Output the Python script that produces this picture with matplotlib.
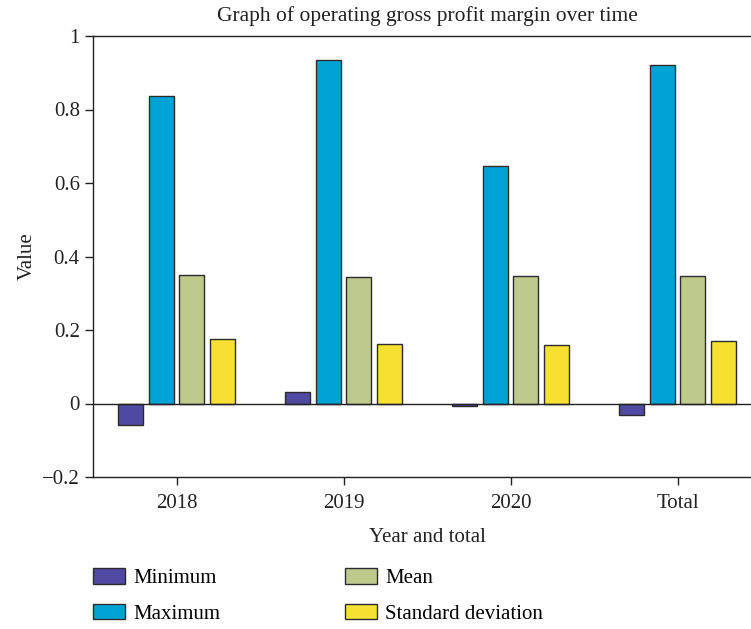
import numpy as np
import matplotlib
matplotlib.use('Agg')
import matplotlib.pyplot as plt

# Data
categories = ['2018', '2019', '2020', 'Total']
minimum = [-0.058, 0.030, -0.006, -0.030]
maximum = [0.837, 0.935, 0.647, 0.921]
mean = [0.349, 0.345, 0.347, 0.348]
std_dev = [0.175, 0.162, 0.160, 0.169]
series_names = ['Minimum', 'Maximum', 'Mean', 'Standard deviation']
series_colors = ['#5049A1', '#00A3D3', '#BEC98C', '#F6E031']
yticks = [-0.2, 0, 0.2, 0.4, 0.6, 0.8, 1]
ytick_labels = ['\u22120.2', '0', '0.2', '0.4', '0.6', '0.8', '1']

plt.rcParams['font.family'] = ['Liberation Serif', 'DejaVu Serif']
plt.rcParams['font.size'] = 15

fig = plt.figure(figsize=(7.51, 6.29), dpi=100)
ax = fig.add_axes([93/751, 1-477/629, 668/751, 441/629])

x = np.arange(len(categories))
pitch = 0.183
width = 0.148
offsets = [-1.5, -0.5, 0.5, 1.5]
handles = []
for vals, name, col, off in zip([minimum, maximum, mean, std_dev], series_names, series_colors, offsets):
    b = ax.bar(x + off*pitch, vals, width, color=col, edgecolor='#2b2b2b', linewidth=1.0, label=name, zorder=3)
    handles.append(b)

ax.axhline(0, color='#222222', linewidth=1.0, zorder=4)
ax.set_xlim(-0.5, 3.5)
ax.set_ylim(-0.2, 1)
ax.set_yticks(yticks)
ax.set_yticklabels(ytick_labels)
ax.set_xticks(x)
ax.set_xticklabels(categories)
ax.tick_params(direction='out', length=6, width=1.0, colors='#222222', labelcolor='#222222')
ax.tick_params(axis='x', pad=6)
ax.spines['right'].set_visible(False)
for s in ['left', 'top', 'bottom']:
    ax.spines[s].set_linewidth(1.0)
    ax.spines[s].set_color('#222222')

ax.set_title('Graph of operating gross profit margin over time', fontsize=15.5, pad=11, color='#222222')
ax.set_xlabel('Year and total', labelpad=11, color='#222222')
ax.set_ylabel('Value', labelpad=4, color='#222222')

fig.legend(handles=handles, labels=series_names, ncol=2, loc='upper left',
           bbox_to_anchor=(93/751, 1-568/629), frameon=False,
           handlelength=1.55, handleheight=0.77, handletextpad=0.4,
           columnspacing=5.95, labelspacing=0.75, borderaxespad=0, borderpad=0)

fig.savefig('out.png', dpi=100)
